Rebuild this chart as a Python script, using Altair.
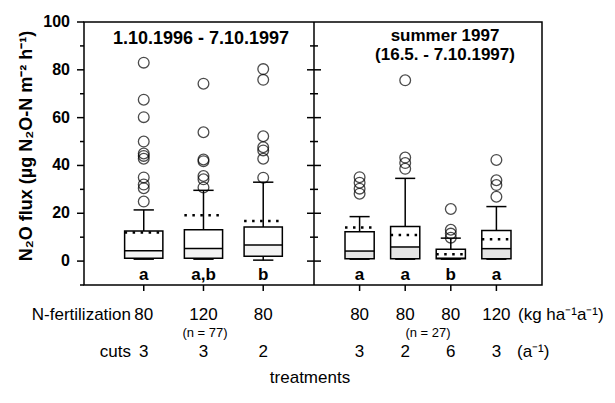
import altair as alt
import pandas as pd

FONT = "Liberation Sans"

# ---------------- data ----------------
left_pos = [1, 2, 3]
left_letters = ["a", "a,b", "b"]
left_fert = ["80", "120", "80"]
left_cuts = ["3", "3", "2"]
left_lo = [0.8, 0.8, 0.4]
left_q1 = [1.2, 1.2, 2.0]
left_med = [4.3, 5.3, 6.7]
left_q3 = [12.6, 13.1, 14.3]
left_hi = [21.4, 29.6, 33.0]
left_mean = [12.0, 19.2, 16.8]
left_out = [
    [83.0, 67.5, 60.2, 50.0, 45.0, 44.0, 42.8, 35.0, 32.0, 30.5, 24.9],
    [74.2, 53.9, 42.5, 41.8, 35.6, 34.2, 30.8],
    [80.3, 75.8, 52.2, 47.6, 46.3, 42.8, 34.9],
]

right_pos = [1, 2, 3, 4]
right_letters = ["a", "a", "b", "a"]
right_fert = ["80", "80", "80", "120"]
right_cuts = ["3", "2", "6", "3"]
right_lo = [0.8, 0.8, 0.8, 0.8]
right_q1 = [1.0, 1.0, 1.0, 1.0]
right_med = [4.2, 5.9, 1.2, 5.2]
right_q3 = [12.3, 14.5, 5.0, 12.8]
right_hi = [18.6, 34.6, 9.6, 22.8]
right_mean = [14.0, 10.9, 2.9, 9.1]
right_out = [
    [35.1, 32.8, 30.3, 28.2],
    [75.6, 43.3, 41.0, 38.6],
    [21.8, 13.1, 11.5, 9.8],
    [42.3, 33.8, 31.8, 26.9],
]

y_major = [0, 20, 40, 60, 80, 100]
y_minor = [-10, 10, 30, 50, 70, 90]
div_major = [0, 20, 40, 60, 80]
div_minor = [10, 30, 50, 70, 90]
y_title = "N\u2082O flux (\u00b5g N\u2082O-N m\u207b\u00b2 h\u207b\u00b9)"

# ---------------- layout ----------------
W, H = 458, 263
DIV = 230
PAD = {"left": 84, "top": 22, "right": 615 - 84 - W, "bottom": 403 - 22 - H}
ROW_FERT, ROW_N, ROW_CUTS, ROW_TREAT = 293, 311, 330, 356

ys = alt.Scale(domain=[-10, 100], nice=False, zero=False)


def Yv(f):
    return alt.Y(f, type="quantitative", scale=ys, axis=None)


def panel(pos, lo, q1, med, q3, hi, mean, outl, letters, fert, cuts,
          domain, rng, hb, hc, shade):
    box = pd.DataFrame(dict(pos=pos, lo=lo, q1=q1, med=med, q3=q3, hi=hi,
                            mean=mean, letter=letters, fert=fert, cuts=cuts))
    pts = pd.DataFrame([(p, v) for p, vals in zip(pos, outl) for v in vals],
                       columns=["pos", "val"])
    xs = alt.Scale(domain=domain, range=rng, nice=False, zero=False)

    def X(f):
        return alt.X(f, type="quantitative", scale=xs, axis=None)

    base = alt.Chart(box).transform_calculate(
        xl=f"datum.pos - {hb}", xr=f"datum.pos + {hb}",
        cl=f"datum.pos - {hc}", cr=f"datum.pos + {hc}",
    )
    lower = base.mark_rect(fill=shade).encode(
        x=X("xl"), x2="xr", y=Yv("q1"), y2="med")
    frame = base.mark_rect(fill="transparent", stroke="black", strokeWidth=1.5).encode(
        x=X("xl"), x2="xr", y=Yv("q1"), y2="q3")
    medl = base.mark_rule(color="black", strokeWidth=1.5).encode(
        x=X("xl"), x2="xr", y=Yv("med"))
    wup = base.mark_rule(color="black", strokeWidth=1.5).encode(
        x=X("pos"), y=Yv("q3"), y2="hi")
    wdn = base.mark_rule(color="black", strokeWidth=1.5).encode(
        x=X("pos"), y=Yv("lo"), y2="q1")
    capu = base.mark_rule(color="black", strokeWidth=1.5).encode(
        x=X("cl"), x2="cr", y=Yv("hi"))
    capd = base.mark_rule(color="black", strokeWidth=1.5).encode(
        x=X("cl"), x2="cr", y=Yv("lo"))
    meanl = base.mark_rule(color="black", strokeWidth=2.5, strokeDash=[2.5, 5.5]).encode(
        x=X("xl"), x2="xr", y=Yv("mean"))
    outp = alt.Chart(pts).mark_point(shape="circle", filled=False, size=115,
                                     color="black", strokeWidth=1.3).encode(
        x=X("pos"), y=Yv("val"))
    letters_t = base.mark_text(font=FONT, fontSize=17, fontWeight="bold",
                               color="black", baseline="middle").encode(
        x=X("pos"), y=alt.value(253), text="letter:N")
    fert_t = base.mark_text(font=FONT, fontSize=17, color="black",
                            baseline="middle").encode(
        x=X("pos"), y=alt.value(ROW_FERT), text="fert:N")
    cuts_t = base.mark_text(font=FONT, fontSize=17, color="black",
                            baseline="middle").encode(
        x=X("pos"), y=alt.value(ROW_CUTS), text="cuts:N")
    xt = base.mark_rule(color="black", strokeWidth=1.5).encode(
        x=X("pos"), y=alt.value(H), y2=alt.value(H + 6))
    return alt.layer(lower, frame, medl, wup, wdn, capu, capd, meanl, outp,
                     letters_t, fert_t, cuts_t, xt)


left = panel(left_pos, left_lo, left_q1, left_med, left_q3, left_hi, left_mean,
             left_out, left_letters, left_fert, left_cuts,
             [0, 3.85], [0, DIV], 0.32, 0.17, "#f3f3f3")
right = panel(right_pos, right_lo, right_q1, right_med, right_q3, right_hi,
              right_mean, right_out, right_letters, right_fert, right_cuts,
              [0, 5], [DIV, W], 0.32, 0.22, "#e4e4e4")

# ---------------- y axis (drawn as marks from the y scale) ----------------
ymaj_df = pd.DataFrame({"v": y_major})
ymaj_ticks = alt.Chart(ymaj_df).mark_rule(color="black", strokeWidth=1.5).encode(
    x=alt.value(-7), x2=alt.value(0), y=Yv("v"))
ymaj_labels = alt.Chart(ymaj_df).mark_text(
    font=FONT, fontSize=16, fontWeight="bold", align="right", baseline="middle",
    color="black").encode(x=alt.value(-14), y=Yv("v"), text="v:Q")
lmin = alt.Chart(pd.DataFrame({"v": y_minor})).mark_rule(color="black", strokeWidth=1.5).encode(
    x=alt.value(-4), x2=alt.value(0), y=Yv("v"))

# divider and its ticks
one = pd.DataFrame({"k": [0]})
divider = alt.Chart(one).mark_rule(color="black", strokeWidth=1.5).encode(
    x=alt.value(DIV), y=alt.value(0), y2=alt.value(H))
dmaj = alt.Chart(pd.DataFrame({"v": div_major})).mark_rule(color="black", strokeWidth=1.5).encode(
    x=alt.value(DIV - 7), x2=alt.value(DIV + 7), y=Yv("v"))
dmin = alt.Chart(pd.DataFrame({"v": div_minor})).mark_rule(color="black", strokeWidth=1.5).encode(
    x=alt.value(DIV - 4), x2=alt.value(DIV + 4), y=Yv("v"))


def label(text, x, y, size=17, weight="normal", align="center", angle=0):
    return alt.Chart(one).mark_text(text=text, font=FONT, fontSize=size,
                                    fontWeight=weight, align=align, angle=angle,
                                    baseline="middle", color="black").encode(
        x=alt.value(x), y=alt.value(y))


texts = [
    label(y_title, -57, 124, 18, "bold", angle=270),
    label("1.10.1996 - 7.10.1997", 117, 17, 18, "bold"),
    label("summer 1997", 361, 14, 17, "bold"),
    label("(16.5. - 7.10.1997)", 361, 33, 17, "bold"),
    label("N-fertilization", 47, ROW_FERT, 17, align="right"),
    label("cuts", 47, ROW_CUTS, 17, align="right"),
    label("(n = 77)", 121, ROW_N, 13),
    label("(n = 27)", 344, ROW_N, 13),
    label("(kg ha\u207b\u00b9a\u207b\u00b9)", 434, ROW_FERT, 17, align="left"),
    label("(a\u207b\u00b9)", 433, ROW_CUTS, 17, align="left"),
    label("treatments", 226, ROW_TREAT, 17),
]

chart = alt.layer(left, right, ymaj_ticks, ymaj_labels, lmin, divider, dmaj, dmin,
                  *texts).resolve_scale(
    x="independent"
).properties(
    width=W, height=H,
    autosize=alt.AutoSizeParams(type="none"),
    padding=PAD,
).configure_view(stroke="black", strokeWidth=1.5)

chart.save("out.html", embed_options={"renderer": "svg", "actions": False})
